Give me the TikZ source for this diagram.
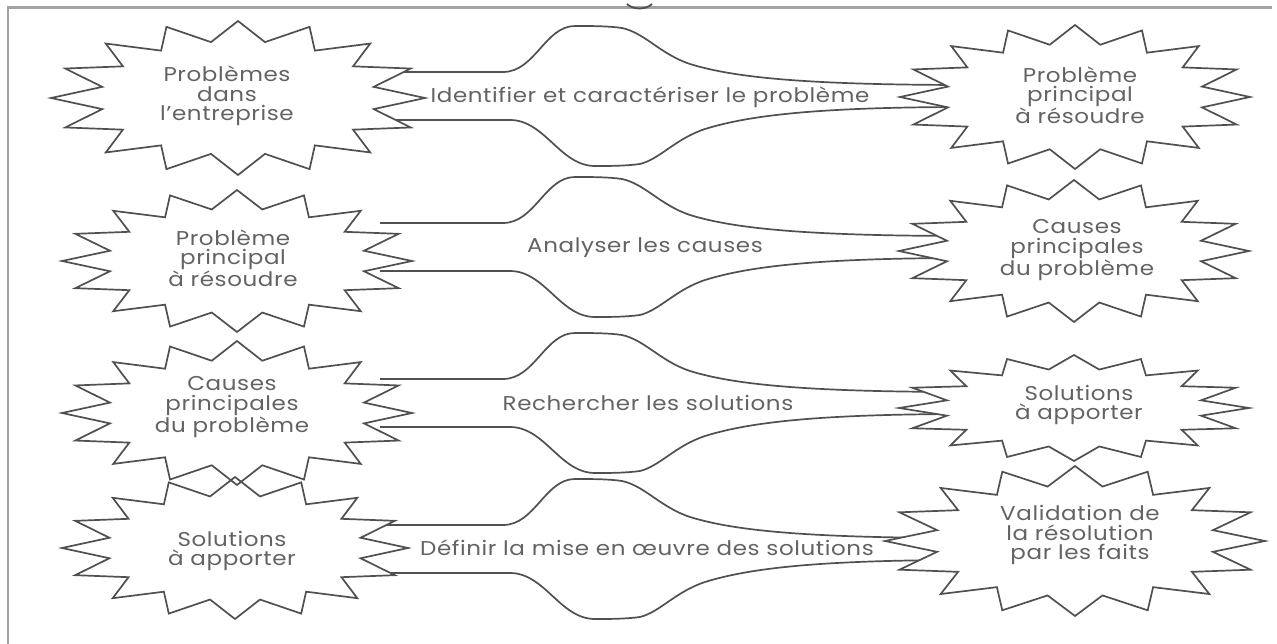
\documentclass[tikz,border=0pt]{standalone}
\usepackage{fontspec}
\setmainfont{Poppins}[FakeStretch=1.15,LetterSpace=3]
\usetikzlibrary{calc}
\definecolor{ink}{HTML}{505050}
\definecolor{txt}{HTML}{636363}
\definecolor{rule}{HTML}{A3A3A3}

% 16-point burst around a centre: #1 path options, #2 centre, #3 x radius, #4 y radius
\newcommand\burst[4]{%
  \path[#1,shift={(#2)}] (0:#3 and #4)
    \foreach \k in {1,...,31}{ -- ({\k*11.25}:{#3*(1-0.26*mod(\k,2))} and {#4*(1-0.26*mod(\k,2))}) }
    -- cycle;}

% bulging connector between two bursts, drawn around a centre line
\newcommand\lens[1]{%
  \draw[lensline,shift={(#1)}] (380,-24) -- (503,-24)
    .. controls (535,-24) and (545,-70) .. (575,-70)
    .. controls (592,-70) and (608,-70) .. (622,-68)
    .. controls (645,-63) and (660,-42) .. (690,-32)
    .. controls (735,-18) and (810,-11) .. (970,-11);
  \draw[lensline,shift={(#1)}] (380,24) -- (510,24)
    .. controls (545,24) and (560,70) .. (595,70)
    .. controls (610,70) and (625,70) .. (640,68)
    .. controls (660,63) and (675,43) .. (705,33)
    .. controls (750,19) and (820,11) .. (970,11);}

\tikzset{
  lensline/.style={draw=ink,line width=1.7pt,line join=round},
  burstline/.style={draw=ink,line width=1.7pt,line join=miter},
  burstfill/.style={fill=white},
  label/.style={text=txt,font=\fontsize{20}{19.5}\selectfont,align=center,inner sep=0pt},
}

\begin{document}
\begin{tikzpicture}[x=1pt,y=-1pt]
\useasboundingbox (0,0) rectangle (1277,644);
\fill[white] (0,0) rectangle (1277,644);

% burst centres
\coordinate (L1) at (238,98);
\coordinate (L2) at (237,261);
\coordinate (L3) at (237,413);
\coordinate (L4) at (235,548);
\coordinate (R1) at (1075,97);
\coordinate (R2) at (1074,251);
\coordinate (R3) at (1074,408);
\coordinate (R4) at (1075,541);

% connector centre lines
\coordinate (c1) at (0,96);
\coordinate (c2) at (0,247);
\coordinate (c3) at (0,403);
\coordinate (c4) at (0,549);

% page rules
\draw[rule,line width=3pt] (7,7.5) -- (1272,7.5);
\draw[rule,line width=2pt] (7.5,7) -- (7.5,644);
\draw[ink,line width=1.8pt] (627,4) .. controls (633,10) and (646,10) .. (652,4);

% connectors
\lens{c1}
\lens{c2}
\lens{c3}
\lens{c4}

% burst interiors, then outlines
\burst{burstfill}{L1}{187}{77}
\burst{burstfill}{L2}{175}{71}
\burst{burstfill}{L3}{175}{72}
\burst{burstfill}{L4}{173}{71}
\burst{burstfill}{R1}{175}{72}
\burst{burstfill}{R2}{175}{71}
\burst{burstfill}{R3}{175}{53}
\burst{burstfill}{R4}{190}{75}
\burst{burstline}{L1}{187}{77}
\burst{burstline}{L2}{175}{71}
\burst{burstline}{L3}{175}{72}
\burst{burstline}{L4}{173}{71}
\burst{burstline}{R1}{175}{72}
\burst{burstline}{R2}{175}{71}
\burst{burstline}{R3}{175}{53}
\burst{burstline}{R4}{190}{75}

% burst texts
\node[label] (tL1) at (227,96) {Problèmes\\dans\\l’entreprise};
\node[label] (tL2) at (233,258) {Problème\\principal\\à résoudre};
\node[label] (tL3) at (232,407) {Causes\\principales\\du problème};
\node[label] (tL4) at (232,551) {Solutions\\à apporter};
\node[label] (tR1) at (1080,95) {Problème\\principal\\à résoudre};
\node[label] (tR2) at (1077,250) {Causes\\principales\\du problème};
\node[label] (tR3) at (1079,405) {Solutions\\à apporter};
\node[label] (tR4) at (1080,535) {Validation de\\la résolution\\par les faits};

% connector texts
\node[label] (s1) at (650,97) {Identifier et caractériser le problème};
\node[label] (s2) at (645,248) {Analyser les causes};
\node[label] (s3) at (648,403) {Rechercher les solutions};
\node[label] (s4) at (647,548) {Définir la mise en œuvre des solutions};
\end{tikzpicture}
\end{document}
